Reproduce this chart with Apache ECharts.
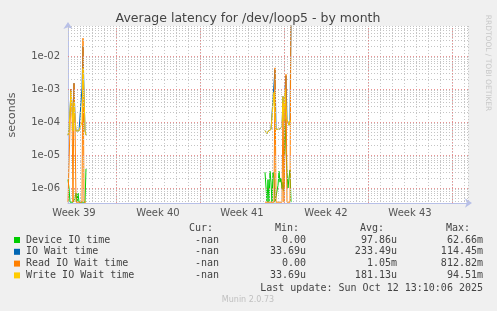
<!DOCTYPE html>
<html><head><meta charset="utf-8">
<script src="https://cdn.jsdelivr.net/npm/echarts@6/dist/echarts.min.js"></script>
<style>html,body{margin:0;padding:0;background:#f0f0f0}#c{width:497px;height:311px}</style>
</head><body><div id="c"></div>
<script>
// ---- chart data ----
const chartTitle = 'Average latency for /dev/loop5 - by month';
const weekLabels = ['Week 39', 'Week 40', 'Week 41', 'Week 42', 'Week 43'];
const seriesNames = ['Device IO time', 'IO Wait time', 'Read IO Wait time', 'Write IO Wait time'];
const seriesColors = ['#00cc00', '#0066b3', '#ff8000', '#ffcc00'];
const legendCur = ['-nan', '-nan', '-nan', '-nan'];
const legendMin = ['0.00', '33.69u', '0.00', '33.69u'];
const legendAvg = ['97.86u', '233.49u', '1.05m', '181.13u'];
const legendMax = ['62.66m', '114.45m', '812.82m', '94.51m'];
const lastUpdate = 'Last update: Sun Oct 12 13:10:06 2025';

// sample times, hours from the left edge of the plot
const hours1 = [0,2,4,6,8,10,12,14,16,18,20,22,24,26,28,30,32,34,36];
const hours2 = [394,396,398,400,402,404,406,408,410,412,414,416,418,420,422,424,426,428,430,432,434,436,438,440,442,444,446];

// cluster 1 values (seconds)
const device1 = [1.8e-6,1e-6,0,0,0,0,0,5e-7,7e-7,0,7e-7,0,0,0,0,0,0,0,3.8e-6];
const iowait1 = [4e-5,5.4e-5,5.4e-5,1e-3,3e-4,5.4e-5,1.5e-3,1.2e-4,5.4e-5,5.4e-5,5.4e-5,5.4e-5,5.4e-5,5.4e-5,1.1e-3,0.02,8e-4,5.4e-5,4e-5];
const read1   = [0,0,0,1e-3,3e-4,0,1.5e-3,1e-4,0,0,0,0,0,0,0,0.035,0,0,0];
const write1  = [4e-5,5.4e-5,5.4e-5,8.5e-4,3e-4,5.4e-5,4e-4,1.2e-4,5.4e-5,5.4e-5,5.4e-5,5.4e-5,5.4e-5,5.4e-5,1e-4,4.3e-3,8e-4,5.4e-5,4e-5];

// cluster 2 values (seconds)
const device2 = [3e-6,3e-6,0,1.8e-6,0,3.2e-6,1.5e-6,0,3e-6,2e-6,0,0,0,1.2e-6,3.2e-6,1.5e-6,2e-6,9e-7,1.5e-6,8e-7,1.2e-4,1.5e-5,3e-6,1e-6,2e-6,3.5e-6,0];
const iowait2 = [5.5e-5,5e-5,4.5e-5,5.2e-5,4.6e-5,5.5e-5,6e-5,5.5e-5,6.5e-5,1.5e-3,4e-3,6e-5,5.5e-5,6.5e-5,6e-5,6.5e-5,6e-5,7e-5,6e-4,1.1e-4,1e-3,2.5e-3,1.2e-4,1e-4,8e-5,1.1e-4,0.114];
const read2   = [0,0,0,0,0,0,0,0,0,0,4.4e-3,0,0,0,0,0,0,0,4e-4,0,0,2.8e-3,0,0,0,0,0.81];
const write2  = [5.5e-5,5e-5,4.5e-5,5.2e-5,4.6e-5,5.5e-5,6e-5,5.5e-5,6.5e-5,8e-4,1.5e-4,6e-5,5.5e-5,6.5e-5,6e-5,6.5e-5,6e-5,7e-5,6e-4,1.1e-4,1e-3,2.5e-4,1.2e-4,1e-4,8e-5,1.1e-4,9e-5];

// ---- rendering ----
const Y_MIN = 3.5e-7, Y_MAX = 0.082, H_MAX = 800;
const FLOOR = Y_MIN * 1.06; // zero values drawn on the bottom edge, as rrdtool does
const AXIS = '#b8c0e8';

function pairs(hours, vals) { return hours.map((h, i) => [h, vals[i] === 0 ? FLOOR : vals[i]]); }
function build(a, b) { return pairs(hours1, a).concat([[200, null]], pairs(hours2, b)); }
const clusters = [[device1, device2], [iowait1, iowait2], [read1, read2], [write1, write2]];

const majorY = [], minorY = [];
for (let k = -7; k <= -1; k++) {
  const p = Math.pow(10, k);
  if (p > Y_MIN && p < Y_MAX) majorY.push(p);
  for (let m = 2; m <= 9; m++) { const v = m * p; if (v > Y_MIN && v < Y_MAX) minorY.push(v); }
}
const weekLines = [96, 264, 432, 600, 768];

const series = clusters.map((c, i) => ({
  name: seriesNames[i], type: 'line', data: build(c[0], c[1]),
  showSymbol: false, symbol: 'none', clip: true, connectNulls: false,
  lineStyle: { width: 1, color: seriesColors[i] }, itemStyle: { color: seriesColors[i] },
  animation: false, z: 3
}));
series.unshift({
  type: 'line', data: [[0, null]], silent: true, z: 1, animation: false,
  markLine: {
    silent: true, symbol: 'none', animation: false, precision: 20, label: { show: false },
    data: [
      ...minorY.map(v => ({ yAxis: v, lineStyle: { color: '#c4c4c4', type: [1, 2], width: 1 } })),
      ...majorY.map(v => ({ yAxis: v, lineStyle: { color: 'rgba(230,120,120,0.8)', type: [1, 2], width: 1 } })),
      ...weekLines.map(v => ({ xAxis: v, lineStyle: { color: 'rgba(230,120,120,0.8)', type: [1, 2], width: 1 } }))
    ]
  }
});

function logLabel(v) {
  const e = Math.log10(v);
  const r = Math.round(e);
  if (Math.abs(e - r) > 1e-6) return '';
  return '1e' + (r < 0 ? '-' : '+') + String(Math.abs(r)).padStart(2, '0');
}

const textColor = '#444';
const mono = '10px "DejaVu Sans Mono"';
const graphics = [
  { type: 'text', x: 248, y: 19, style: { text: chartTitle, fill: textColor, font: '12.5px "DejaVu Sans"', align: 'center', verticalAlign: 'middle' } },
  { type: 'text', x: 12, y: 115, rotation: Math.PI / 2, style: { text: 'seconds', fill: '#555', font: '11px "DejaVu Sans"', align: 'center', verticalAlign: 'middle' } },
  { type: 'text', x: 488, y: 63, rotation: -Math.PI / 2, style: { text: 'RRDTOOL / TOBI OETIKER', fill: '#c8c8c8', font: '7.5px "DejaVu Sans"', align: 'center', verticalAlign: 'middle' } },
  { type: 'text', x: 248, y: 300, style: { text: 'Munin 2.0.73', fill: '#c0c0c0', font: '8px "DejaVu Sans"', align: 'center', verticalAlign: 'middle' } },
  { type: 'text', x: 213, y: 228, style: { text: 'Cur:', fill: textColor, font: mono, align: 'right', verticalAlign: 'middle' } },
  { type: 'text', x: 299, y: 228, style: { text: 'Min:', fill: textColor, font: mono, align: 'right', verticalAlign: 'middle' } },
  { type: 'text', x: 384, y: 228, style: { text: 'Avg:', fill: textColor, font: mono, align: 'right', verticalAlign: 'middle' } },
  { type: 'text', x: 470, y: 228, style: { text: 'Max:', fill: textColor, font: mono, align: 'right', verticalAlign: 'middle' } },
  { type: 'text', x: 483, y: 288, style: { text: lastUpdate, fill: textColor, font: mono, align: 'right', verticalAlign: 'middle' } }
];
seriesNames.forEach((n, i) => {
  const y = 240 + i * 11.8;
  graphics.push({ type: 'rect', shape: { x: 14, y: y - 3, width: 6, height: 6 }, style: { fill: seriesColors[i] } });
  graphics.push({ type: 'text', x: 26, y: y, style: { text: n, fill: textColor, font: mono, align: 'left', verticalAlign: 'middle' } });
  graphics.push({ type: 'text', x: 219, y: y, style: { text: legendCur[i], fill: textColor, font: mono, align: 'right', verticalAlign: 'middle' } });
  graphics.push({ type: 'text', x: 306, y: y, style: { text: legendMin[i], fill: textColor, font: mono, align: 'right', verticalAlign: 'middle' } });
  graphics.push({ type: 'text', x: 397, y: y, style: { text: legendAvg[i], fill: textColor, font: mono, align: 'right', verticalAlign: 'middle' } });
  graphics.push({ type: 'text', x: 483, y: y, style: { text: legendMax[i], fill: textColor, font: mono, align: 'right', verticalAlign: 'middle' } });
});

const chart = echarts.init(document.getElementById('c'), null, { renderer: 'canvas' });
chart.setOption({
  animation: false,
  backgroundColor: '#f0f0f0',
  grid: { left: 68, top: 26, width: 400, height: 177, show: true, backgroundColor: '#ffffff', borderWidth: 0 },
  xAxis: [
    { type: 'value', min: 0, max: H_MAX, interval: 24,
      axisLine: { show: true, onZero: false, lineStyle: { color: AXIS, width: 1 }, symbol: ['none', 'arrow'], symbolSize: [7, 7], symbolOffset: [0, 4] },
      axisTick: { show: false }, axisLabel: { show: false },
      splitLine: { show: true, lineStyle: { color: '#c8c8c8', type: [1, 2], width: 1 } } },
    { type: 'value', min: 0, max: H_MAX, interval: 12, position: 'bottom',
      axisLine: { show: false }, axisTick: { show: false }, splitLine: { show: false },
      axisLabel: { interval: 0, margin: 5, fontSize: 10, color: '#555', fontFamily: 'DejaVu Sans',
        formatter: v => ((v - 12) % 168 === 0 && (v - 12) / 168 < weekLabels.length ? weekLabels[(v - 12) / 168] : '') } }
  ],
  yAxis: {
    type: 'log', logBase: 10, min: Y_MIN, max: Y_MAX,
    axisLine: { show: true, lineStyle: { color: AXIS, width: 1 }, symbol: ['none', 'arrow'], symbolSize: [7, 7], symbolOffset: [0, 4] },
    axisTick: { show: false }, splitLine: { show: false },
    axisLabel: { margin: 8, fontSize: 10, color: '#555', fontFamily: 'DejaVu Sans', formatter: logLabel, showMinLabel: false, showMaxLabel: false }
  },
  graphic: graphics,
  series: series
});
</script></body></html>
